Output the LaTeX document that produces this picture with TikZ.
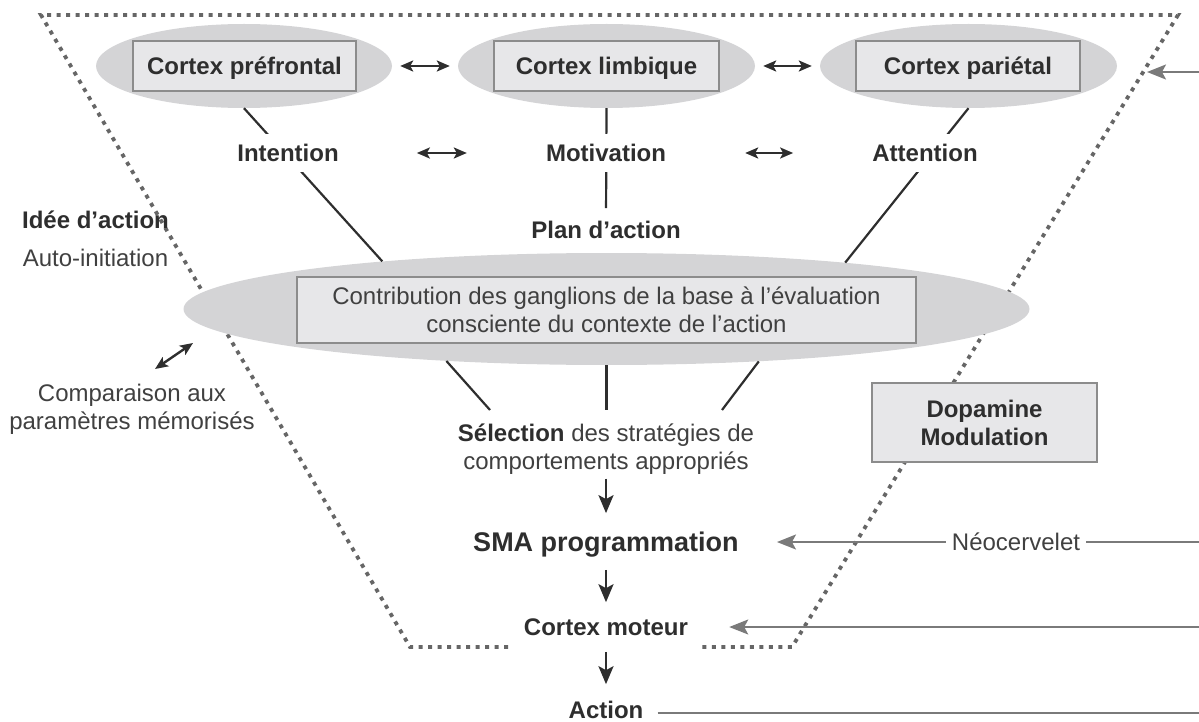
\documentclass[tikz,border=0pt]{standalone}
\usepackage{fontspec}
\setmainfont{Liberation Sans}
\usetikzlibrary{shapes.geometric,arrows.meta}
\definecolor{ellgray}{HTML}{D4D4D6}
\definecolor{boxgray}{HTML}{E7E7E9}
\definecolor{boxline}{HTML}{8C8C8C}
\definecolor{txt}{HTML}{2E2E2E}
\definecolor{txtn}{HTML}{404040}
\definecolor{dotc}{HTML}{666666}
\definecolor{arrgray}{HTML}{7A7A7A}
\begin{document}
\begin{tikzpicture}[x=1pt,y=-1pt,
  base/.style={font=\fontsize{24}{28}\selectfont, text=txtn, inner sep=0pt},
  bold/.style={font=\fontsize{24}{28}\selectfont\bfseries, text=txt, inner sep=0pt},
  oneline/.style={text height=17.2pt, text depth=0pt},
  ell/.style={ellipse, fill=ellgray, draw=none, inner sep=0pt},
  cbox/.style={rectangle, fill=boxgray, draw=boxline, line width=1.5pt},
  mask/.style={bold, oneline, fill=white, inner xsep=3pt, inner ysep=10pt},
  conn/.style={draw=txt, line width=2.2pt},
  dbl/.style={draw=txt, line width=2.4pt, {Stealth[length=13pt,width=11pt,inset=3pt]}-{Stealth[length=13pt,width=11pt,inset=3pt]}},
  down/.style={draw=txt, line width=2.6pt, -{Stealth[length=18pt,width=15pt,inset=4pt]}},
  garr/.style={draw=arrgray, line width=2pt, -{Stealth[length=19pt,width=15pt,inset=4pt]}},
  gline/.style={draw=arrgray, line width=2pt},
  border/.style={draw=dotc, line width=3.8pt, dash pattern=on 4pt off 5.5pt},
]
\useasboundingbox (0,0) rectangle (1199,722);

% dotted funnel
\coordinate (bl1) at (508,647);
\coordinate (bl2) at (410,647);
\coordinate (tl) at (41,15);
\coordinate (tr) at (1178,15);
\coordinate (br2) at (792,647);
\coordinate (br1) at (700,647);
\draw[border] (bl1) -- (bl2) -- (tl) -- (tr) -- (br2) -- (br1);

% top cortices
\node[ell, minimum width=296pt, minimum height=84pt] (ellP) at (244,66) {};
\node[ell, minimum width=297pt, minimum height=84pt] (ellL) at (606.5,66) {};
\node[ell, minimum width=297pt, minimum height=84pt] (ellR) at (968.5,66) {};
\node[cbox, bold, oneline, minimum width=223pt, minimum height=50pt] (boxP) at (244.5,66) {Cortex préfrontal};
\node[cbox, bold, oneline, minimum width=225pt, minimum height=50pt] (boxL) at (606.5,66) {Cortex limbique};
\node[cbox, bold, oneline, minimum width=224pt, minimum height=50pt] (boxR) at (968,66) {Cortex pariétal};

\draw[dbl, shorten <=8pt, shorten >=8pt] (ellP.east) -- (ellL.west);
\draw[dbl, shorten <=8pt, shorten >=8pt] (ellL.east) -- (ellR.west);

% big ellipse
\node[ell, minimum width=846pt, minimum height=112pt] (bigE) at (606.5,309) {};
\node[cbox, base, align=center, minimum width=619pt, minimum height=66pt] (bigB) at (606.5,310)
  {Contribution des ganglions de la base à l’évaluation\\consciente du contexte de l’action};

% connectors from cortices to big ellipse
\draw[conn] (ellP.south) -- (bigE.168.8);
\draw[conn] (ellR.south) -- (bigE.11.2);

% labels (masking the lines)
\node[mask] (intention) at (288,153) {Intention};
\node[mask] (attention) at (925,153) {Attention};
\node[bold, oneline] (plan) at (606,230) {Plan d’action};
\draw[conn, shorten >=13pt] (ellL.south) -- (plan.north);
\node[mask] (motivation) at (606,153) {Motivation};

\draw[dbl, shorten <=75pt, shorten >=76pt] (intention.east) -- (motivation.west);
\draw[dbl, shorten <=76pt, shorten >=76pt] (motivation.east) -- (attention.west);

% left side
\node[bold, oneline] (idee) at (95.5,220) {Idée d’action};
\node[base, oneline] (auto) at (95.5,258) {Auto-initiation};
\node[base, align=center] (comp) at (132,409) {Comparaison aux\\paramètres mémorisés};
\coordinate (cmpA) at (155,369);
\coordinate (cmpB) at (193,343);
\draw[dbl] (cmpA) -- (cmpB);

% below big ellipse
\coordinate (s1) at (490,410);
\coordinate (s3) at (722,410);
\node[base, align=center] (sel) at (606,449) {\textbf{\color{txt}Sélection} des stratégies de\\comportements appropriés};
\draw[conn] (bigE.198.8) -- (s1);
\draw[conn] (bigE.south) -- (bigE.south |- s1);
\draw[conn] (bigE.341.5) -- (s3);

% dopamine
\node[cbox, bold, align=center, minimum width=225pt, minimum height=79pt] (dopa) at (984.5,422.5) {Dopamine\\Modulation};

% motor chain
\node[bold, font=\fontsize{27}{32}\selectfont\bfseries, text height=19.3pt, text depth=0pt] (sma) at (606,542) {SMA programmation};
\node[bold, oneline] (moteur) at (606,627) {Cortex moteur};
\node[bold, oneline] (action) at (606,710) {Action};
\draw[down, shorten <=4pt, shorten >=19pt] (sel.south) -- (sma.north);
\draw[down, shorten <=18pt, shorten >=16pt] (sma.south) -- (moteur.north);
\draw[down, shorten <=16pt, shorten >=17pt] (moteur.south) -- (action.north);

% right-side inputs
\node[base, oneline, inner xsep=6pt] (neo) at (1016,542) {Néocervelet};
\coordinate (rNeo) at (1199,542);
\coordinate (rMot) at (1199,627);
\coordinate (rAct) at (1199,713);
\coordinate (rTop) at (1199,72);
\coordinate (tTop) at (1147,72);
\draw[garr, shorten >=38pt] (neo.west) -- (sma.east);
\draw[gline] (neo.east) -- (rNeo);
\draw[garr, shorten >=41pt] (rMot) -- (moteur.east);
\draw[gline] ([xshift=14pt]action.east |- rAct) -- (rAct);
\draw[garr] (rTop) -- (tTop);
\end{tikzpicture}
\end{document}
